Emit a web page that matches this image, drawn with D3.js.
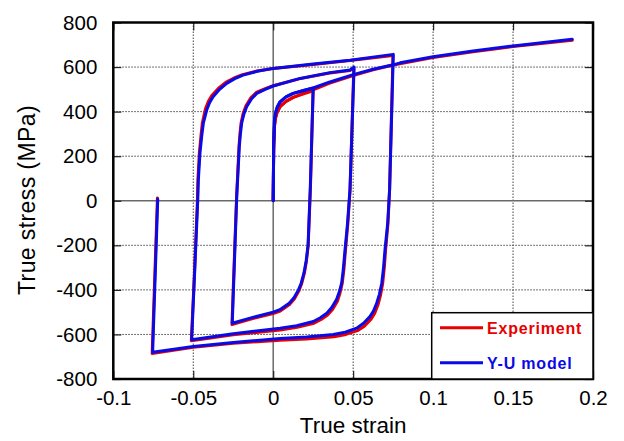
<!DOCTYPE html>
<html>
<head>
<meta charset="utf-8">
<script src="https://cdn.jsdelivr.net/npm/d3@7"></script>
<style>
  html, body { margin: 0; padding: 0; background: #fff; }
  svg { display: block; font-family: "Liberation Sans", Arial, sans-serif; }
</style>
</head>
<body>
<svg id="chart" width="624" height="441"></svg>
<script>
// ---------- data (strain, stress in MPa) ----------
const xTickValues = [-0.1, -0.05, 0, 0.05, 0.1, 0.15, 0.2];
const xTickLabels = ["-0.1", "-0.05", "0", "0.05", "0.1", "0.15", "0.2"];
const yTickValues = [-800, -600, -400, -200, 0, 200, 400, 600, 800];
const yTickLabels = ["-800", "-600", "-400", "-200", "0", "200", "400", "600", "800"];
const seriesNames = ["Experiment", "Y-U model"];

const expCyclic = [
  [0,0],[0.0003,230],[0.0008,335],[0.0015,372],[0.0025,398],[0.0043,422],[0.008,446],[0.0125,464],[0.019,480],[0.0245,492],[0.025,504],
  [0.0233,60],[0.0219,-200],[0.0208,-270],[0.0195,-325],[0.0178,-372],[0.0161,-404],[0.0133,-440],[0.0102,-466],[0.0044,-495],[0.0,-506],[-0.0145,-532],[-0.0258,-556],
  [-0.0229,18],[-0.0214,243],[-0.0208,300],[-0.0201,349],[-0.0188,392],[-0.0171,425],[-0.0140,462],[-0.0106,486],[-0.005,503],[0.0,516],[0.0168,548],[0.0355,573],[0.048,584],[0.0504,596],
  [0.0481,50],[0.0467,-100],[0.0451,-230],[0.0442,-310],[0.0432,-370],[0.0418,-414],[0.0401,-452],[0.0371,-488],[0.0340,-513],[0.0300,-533],[0.0255,-550],[0.0150,-568],[0.0045,-580],[-0.025,-602],[-0.0512,-628],
  [-0.0491,-300],[-0.0474,0],[-0.0471,93],[-0.0462,214],[-0.0452,290],[-0.0443,350],[-0.0424,412],[-0.0406,445],[-0.0384,472],[-0.0342,505],[-0.0297,531],[-0.0245,551],[-0.0192,566],[-0.010,582],[0.0,594],[0.025,612],[0.0481,629],[0.0749,652],
  [0.0728,50],[0.0718,-100],[0.0703,-221],[0.0695,-300],[0.0685,-370],[0.0671,-425],[0.0655,-468],[0.0635,-505],[0.0612,-532],[0.0570,-563],[0.0527,-583],[0.0455,-600],[0.0380,-610],[0.0209,-621],[0.0043,-626],[-0.025,-640],[-0.050,-658],[-0.0757,-686],
  [-0.0724,12]
];
const expMonotonic = [
  [0,0],[0.0003,230],[0.0008,335],[0.0015,372],[0.0025,398],[0.0043,422],[0.008,446],[0.0125,464],[0.019,482],[0.025,498],
  [0.035,527],[0.05,562],[0.0625,588],[0.0751,609],[0.1,643],[0.125,669],[0.15,692],[0.187,720]
];
const modelCyclic = [
  [0,0],[0.0003,250],[0.0008,362],[0.0015,395],[0.0025,420],[0.0043,444],[0.008,466],[0.0125,482],[0.019,495],[0.025,506],
  [0.0232,60],[0.0218,-200],[0.0206,-270],[0.0192,-325],[0.0175,-370],[0.0158,-400],[0.013,-435],[0.0100,-460],[0.0042,-489],[0.0,-500],[-0.0145,-527],[-0.0256,-550],
  [-0.0228,18],[-0.0212,243],[-0.0205,300],[-0.0197,349],[-0.0183,390],[-0.0166,422],[-0.0135,458],[-0.0103,482],[-0.005,500],[0.0,515],[0.0168,549],[0.0355,575],[0.048,587],[0.0506,600],
  [0.0480,50],[0.0465,-100],[0.0448,-230],[0.0438,-310],[0.0428,-370],[0.0413,-410],[0.0395,-445],[0.0365,-480],[0.0335,-505],[0.0295,-525],[0.0251,-542],[0.0147,-561],[0.0043,-572],[-0.025,-597],[-0.051,-624],
  [-0.0490,-300],[-0.0472,0],[-0.0468,93],[-0.0458,214],[-0.0447,290],[-0.0437,348],[-0.0416,407],[-0.0398,440],[-0.0376,467],[-0.0335,500],[-0.0291,527],[-0.0240,548],[-0.0189,564],[-0.010,581],[0.0,594],[0.025,614],[0.0481,631],[0.0751,657],
  [0.0728,50],[0.0716,-100],[0.0699,-221],[0.0690,-300],[0.0679,-370],[0.0664,-420],[0.0647,-460],[0.0627,-495],[0.0605,-520],[0.0565,-550],[0.0522,-572],[0.045,-590],[0.0376,-600],[0.0209,-612],[0.0043,-618],[-0.025,-636],[-0.050,-654],[-0.0754,-680],
  [-0.0722,8]
];
const modelMonotonic = [
  [0,0],[0.0003,250],[0.0008,362],[0.0015,395],[0.0025,420],[0.0043,444],[0.008,466],[0.0125,482],[0.019,495],[0.025,506],
  [0.035,532],[0.05,566],[0.0625,590],[0.0751,610],[0.0794,619],[0.1,646],[0.125,672],[0.15,695],[0.187,725]
];

// ---------- layout ----------
const svg = d3.select("#chart");
const L = 113.3, R = 593, T = 22.5, B = 379;
const x = d3.scaleLinear().domain([-0.1, 0.2]).range([L, R]);
const y = d3.scaleLinear().domain([-800, 800]).range([B, T]);

svg.append("rect").attr("width", 624).attr("height", 441).attr("fill", "#fff");

// grid
const grid = svg.append("g");
grid.selectAll("line.gx").data(xTickValues.filter(v => v > -0.1 && v < 0.2 && v !== 0))
  .join("line").attr("x1", d => x(d)).attr("x2", d => x(d)).attr("y1", T).attr("y2", B)
  .attr("stroke", "#444").attr("stroke-width", 1).attr("stroke-dasharray", "1.5,1.5");
grid.selectAll("line.gy").data(yTickValues.filter(v => v > -800 && v < 800 && v !== 0))
  .join("line").attr("y1", d => y(d)).attr("y2", d => y(d)).attr("x1", L).attr("x2", R)
  .attr("stroke", "#444").attr("stroke-width", 1).attr("stroke-dasharray", "1.5,1.5");
// zero lines
svg.append("line").attr("x1", x(0)).attr("x2", x(0)).attr("y1", T).attr("y2", B)
  .attr("stroke", "#6a6a6a").attr("stroke-width", 1.5);
svg.append("line").attr("y1", y(0)).attr("y2", y(0)).attr("x1", L).attr("x2", R)
  .attr("stroke", "#6a6a6a").attr("stroke-width", 1.5);

// axes
const fontTick = "20.5px";
const xAxis = d3.axisBottom(x).tickValues(xTickValues)
  .tickFormat((d, i) => xTickLabels[i]).tickSize(-8).tickPadding(11.5);
const gx = svg.append("g").attr("transform", `translate(0,${B})`).call(xAxis);
const yAxis = d3.axisLeft(y).tickValues(yTickValues)
  .tickFormat((d, i) => yTickLabels[i]).tickSize(-8).tickPadding(16);
const gy = svg.append("g").attr("transform", `translate(${L},0)`).call(yAxis);
const gxt = svg.append("g").attr("transform", `translate(0,${T})`)
  .call(d3.axisTop(x).tickValues(xTickValues).tickFormat("").tickSize(-8));
const gyr = svg.append("g").attr("transform", `translate(${R},0)`)
  .call(d3.axisRight(y).tickValues(yTickValues).tickFormat("").tickSize(-8));
[gx, gy, gxt, gyr].forEach(g => {
  g.select(".domain").remove();
  g.selectAll(".tick line").attr("stroke", "#222").attr("stroke-width", 1.2);
  g.selectAll(".tick text").attr("fill", "#000").style("font-size", fontTick)
    .style("font-family", "'Liberation Sans', Arial, sans-serif");
});

// curves
const line = d3.line().x(d => x(d[0])).y(d => y(d[1])).curve(d3.curveLinear);
const curves = svg.append("g").attr("fill", "none").attr("stroke-width", 3)
  .attr("stroke-linejoin", "round").attr("stroke-linecap", "round");
curves.append("path").datum(expMonotonic).attr("d", line).attr("stroke", "#e80000");
curves.append("path").datum(expCyclic).attr("d", line).attr("stroke", "#e80000");
curves.append("path").datum(modelMonotonic).attr("d", line).attr("stroke", "#0a0ae6");
curves.append("path").datum(modelCyclic).attr("d", line).attr("stroke", "#0a0ae6");

// border
svg.append("rect").attr("x", L).attr("y", T).attr("width", R - L).attr("height", B - T)
  .attr("fill", "none").attr("stroke", "#000").attr("stroke-width", 2.5);

// legend
const lg = svg.append("g");
lg.append("rect").attr("x", 431.7).attr("y", 312.7).attr("width", R - 431.7).attr("height", B - 312.7)
  .attr("fill", "#fff").attr("stroke", "#000").attr("stroke-width", 1.5);
const legendColors = ["#e80000", "#0a0ae6"];
const legendY = [327.7, 362.7];
seriesNames.forEach((name, i) => {
  lg.append("line").attr("x1", 440).attr("x2", 483).attr("y1", legendY[i]).attr("y2", legendY[i])
    .attr("stroke", legendColors[i]).attr("stroke-width", 3);
  lg.append("text").attr("x", 487).attr("y", legendY[i] + 6).text(name)
    .attr("fill", legendColors[i]).style("font-size", "16px").style("font-weight", "bold")
    .style("letter-spacing", "0.8px");
});

// axis titles
svg.append("text").attr("x", (L + R) / 2).attr("y", 433).attr("text-anchor", "middle")
  .style("font-size", "22.5px").text("True strain");
svg.append("text").attr("transform", "translate(35,200) rotate(-90)").attr("text-anchor", "middle")
  .style("font-size", "23px").style("letter-spacing", "0.4px").text("True stress (MPa)");
</script>
</body>
</html>
